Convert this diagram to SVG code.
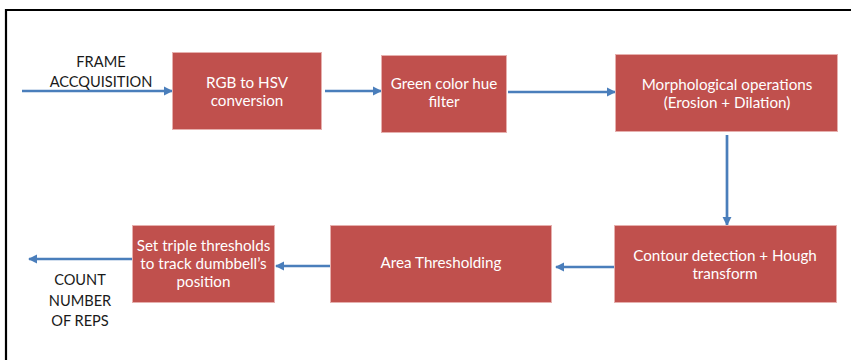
<svg xmlns="http://www.w3.org/2000/svg" width="851" height="360" viewBox="0 0 851 360">
<style>
.box{fill:#C0504D;stroke:#E6B0AE;stroke-width:1}
.bt{fill:#ffffff;font-family:Lato,"Open Sans",sans-serif;font-size:15.2px;text-anchor:middle}
.lt{fill:#1a1a1a;font-family:Lato,"Open Sans",sans-serif;font-size:14.6px;text-anchor:middle}
.c{stroke:#4A7EBB;stroke-width:2.7;fill:none;marker-end:url(#ah)}
</style>
<defs>
<marker id="ah" viewBox="0 0 10 10" refX="9" refY="5" markerWidth="3.4" markerHeight="3.4" orient="auto" markerUnits="strokeWidth">
<path d="M0,0 L10,5 L0,10 z" fill="#4A7EBB"/>
</marker>
</defs>
<rect x="0" y="0" width="851" height="360" fill="#ffffff"/>
<g id="frame">
<path d="M6,360 L6,10 L851,10" fill="none" stroke="#000" stroke-width="2.2"/>
</g>
<g id="connectors">
<line class="c" x1="22" y1="91" x2="172" y2="91"/>
<line class="c" x1="325" y1="91" x2="381" y2="91"/>
<line class="c" x1="508" y1="92" x2="615" y2="92"/>
<line class="c" x1="727" y1="135" x2="727" y2="225"/>
<line class="c" x1="614" y1="267" x2="556" y2="267"/>
<line class="c" x1="331" y1="266" x2="276" y2="266"/>
<line class="c" x1="132" y1="259" x2="29" y2="259"/>
</g>
<g id="label-frame">
<text class="lt" x="101" y="67">FRAME</text>
<text class="lt" x="101" y="87">ACCQUISITION</text>
</g>
<g id="label-count">
<text class="lt" x="80" y="285">COUNT</text>
<text class="lt" x="80" y="305.5">NUMBER</text>
<text class="lt" x="80" y="326">OF REPS</text>
</g>
<g id="rgb">
<rect class="box" x="172.5" y="52.5" width="149" height="77"/>
<text class="bt" x="247" y="88">RGB to HSV</text>
<text class="bt" x="247" y="105.5">conversion</text>
</g>
<g id="green">
<rect class="box" x="381.5" y="55.5" width="125" height="77"/>
<text class="bt" x="444" y="89">Green color hue</text>
<text class="bt" x="444" y="107">filter</text>
</g>
<g id="morph">
<rect class="box" x="615.5" y="54.5" width="222" height="77"/>
<text class="bt" x="727" y="90">Morphological operations</text>
<text class="bt" x="727" y="108">(Erosion + Dilation)</text>
</g>
<g id="contour">
<rect class="box" x="614.5" y="225.5" width="222" height="77"/>
<text class="bt" x="725" y="260.5">Contour detection + Hough</text>
<text class="bt" x="725" y="278.5">transform</text>
</g>
<g id="area">
<rect class="box" x="330.5" y="225.5" width="221" height="77"/>
<text class="bt" x="441" y="268">Area Thresholding</text>
</g>
<g id="triple">
<rect class="box" x="132.5" y="225.5" width="142" height="77"/>
<text class="bt" x="203.5" y="250.5">Set triple thresholds</text>
<text class="bt" x="203.5" y="268.5">to track dumbbell’s</text>
<text class="bt" x="203.5" y="286.5">position</text>
</g>
</svg>
